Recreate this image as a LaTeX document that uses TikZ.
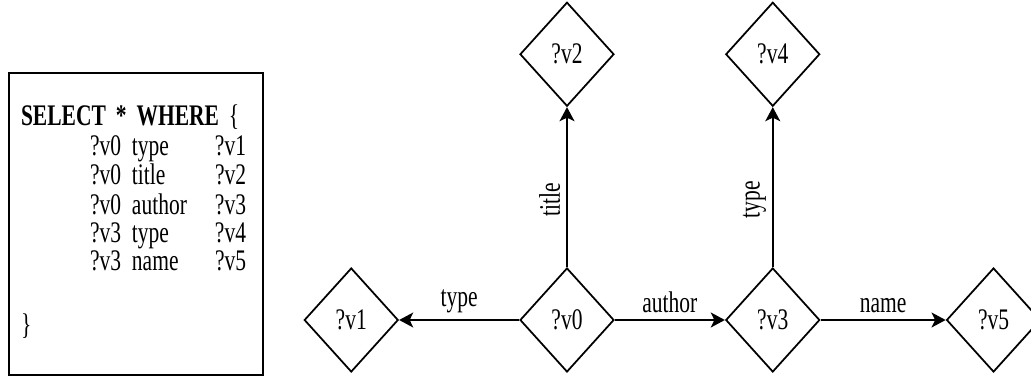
\documentclass[tikz,border=0pt]{standalone}
\usepackage{fontspec}
\setmainfont{Liberation Serif}[FakeStretch=0.72]
\usetikzlibrary{shapes,arrows.meta,positioning}
\newcommand{\qfont}{\fontsize{17}{16}\selectfont}

\begin{document}
\begin{tikzpicture}[auto, node distance=2.2cm,
        var/.style={draw, diamond, line width=1pt, minimum width=1.88cm, minimum height=2.08cm, inner sep=0pt, font=\qfont},
        query/.style={draw, rectangle, line width=1pt, minimum height=6.04cm, text width=4.6cm, inner xsep=0.24cm, align=left, font=\qfont},
        edge/.style={->, line width=1pt},
        lbl/.style={font=\qfont},
        >={Stealth[length=8pt,width=8.5pt,inset=2pt]}
    ]
        \useasboundingbox (0,0) rectangle (20.62,7.58);

        % Query
        \node [query] (sparql) at (2.72,3.1) {%
            \begin{tabular}{@{}p{1.38cm}@{}p{0.84cm}@{}p{1.66cm}@{}l@{}}
                \multicolumn{4}{@{}l@{}}{\textbf{SELECT * WHERE} \{}\\[1pt]
                & ?v0 & type & ?v1\\
                & ?v0 & title & ?v2\\
                & ?v0 & author & ?v3\\
                & ?v3 & type & ?v4\\
                & ?v3 & name & ?v5\\[0.7cm]
                \multicolumn{4}{@{}l@{}}{\}}
            \end{tabular}};

        % Query graph
        \node [var] (v0) at (11.34,1.18) {?v0};
        \node [var, left=2.4cm of v0] (v1) {?v1};
        \node [var, above=3.2cm of v0] (v2) {?v2};
        \node [var, right=2.2cm of v0] (v3) {?v3};
        \node [var, above=3.2cm of v3] (v4) {?v4};
        \node [var, right=2.5cm of v3] (v5) {?v5};

        \draw [edge] (v0) -- node[above, lbl]{type} (v1);
        \draw [edge] (v0) -- node[sloped, above, pos=0.42, lbl]{title} (v2);
        \draw [edge] (v0) -- node[above, lbl]{author} (v3);
        \draw [edge] (v3) -- node[sloped, above, pos=0.42, lbl]{type} (v4);
        \draw [edge] (v3) -- node[above, lbl]{name} (v5);
    \end{tikzpicture}
\end{document}
